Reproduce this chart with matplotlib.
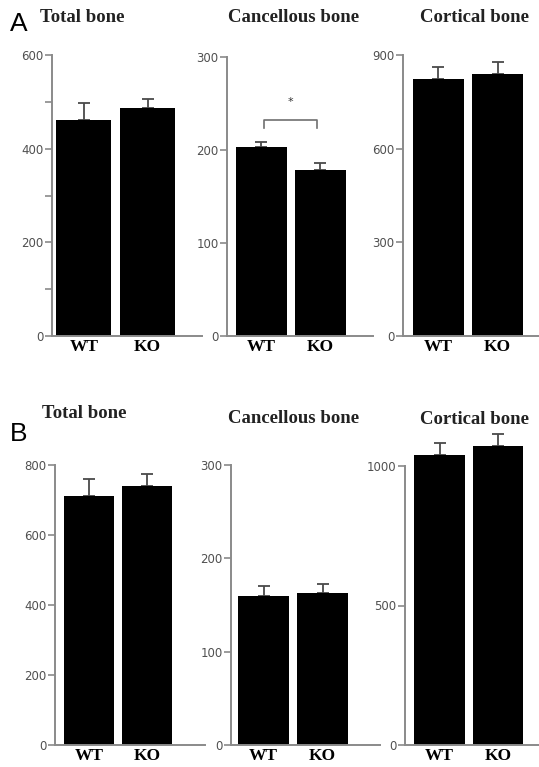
import numpy as np
import matplotlib
matplotlib.use("Agg")
import matplotlib.pyplot as plt

# ---- datos ----
groups = ["WT", "KO"]
titles = ["Total bone", "Cancellous bone", "Cortical bone"]

a_means = [[462, 487], [203, 178], [822, 839]]
a_errs = [[35, 18], [6, 8], [40, 37]]
a_ticks = [[0, 200, 400, 600], [0, 100, 200, 300], [0, 300, 600, 900]]
a_minor = [[100, 300, 500], [], []]

b_means = [[712, 740], [160, 163], [1040, 1070]]
b_errs = [[48, 34], [10, 9], [42, 45]]
b_ticks = [[0, 200, 400, 600, 800], [0, 100, 200, 300], [0, 500, 1000]]
b_minor = [[], [], []]

# significancia (panel A, cancellous)
sig_y = 232
sig_drop = 8
sig_star_y = 252

W, H = 539, 767
AXIS_GRAY = "#8a8a8a"
TEXT_GRAY = "#505050"

# pixel layout: (axis x, right end, top px, bottom px, xlim)
layout_a = [(52, 202, 55, 336, (-0.50, 1.85)),
            (227, 373, 57, 336, (-0.58, 1.89)),
            (403, 539, 55, 336, (-0.60, 1.70))]
layout_b = [(55, 205, 465, 745, (-0.59, 2.00)),
            (231, 380, 465, 745, (-0.55, 1.97)),
            (405, 539, 466, 745, (-0.59, 1.70))]
title_y_a = [17, 17, 17]
title_y_b = [414, 418, 420]


def make_axes(fig, x0, x1, top, bottom):
    return fig.add_axes([x0 / W, 1 - bottom / H, (x1 - x0) / W, (bottom - top) / H])


def draw_panel(ax, means, errs, ticks, minor, xlim):
    x = np.arange(len(groups))
    ax.bar(x, means, width=0.86, color="black", zorder=2, clip_on=False)
    ax.errorbar(x, means, yerr=[np.zeros(len(errs)), errs], fmt="none",
                ecolor="#4a4a4a", elinewidth=1.3, capsize=4, capthick=1.3,
                zorder=1, clip_on=False)
    ax.set_xlim(*xlim)
    ax.set_ylim(0, ticks[-1])
    ax.set_yticks(ticks)
    ax.set_yticks(minor, minor=True)
    ax.tick_params(axis="y", which="both", length=5, width=1.2, color=AXIS_GRAY,
                   labelsize=8.5, labelcolor=TEXT_GRAY, pad=1)
    ax.set_xticks(x)
    ax.set_xticklabels(groups, fontfamily="Liberation Serif", fontweight="bold",
                       fontsize=12.5)
    ax.tick_params(axis="x", length=0, pad=2)
    for s in ["top", "right"]:
        ax.spines[s].set_visible(False)
    for s in ["left", "bottom"]:
        ax.spines[s].set_color(AXIS_GRAY)
        ax.spines[s].set_linewidth(1.4)
    ax.set_facecolor("none")


fig = plt.figure(figsize=(W / 100, H / 100), dpi=100)

for i in range(3):
    x0, x1, top, bottom, xlim = layout_a[i]
    ax = make_axes(fig, x0, x1, top, bottom)
    draw_panel(ax, a_means[i], a_errs[i], a_ticks[i], a_minor[i], xlim)
    if i == 1:
        ax.plot([0.05, 0.05, 0.95, 0.95],
                [sig_y - sig_drop, sig_y, sig_y, sig_y - sig_drop],
                color="#707070", lw=1.2)
        ax.text(0.5, sig_star_y, "*", ha="center", va="center", fontsize=8,
                color="#333333")

for i in range(3):
    x0, x1, top, bottom, xlim = layout_b[i]
    ax = make_axes(fig, x0, x1, top, bottom)
    draw_panel(ax, b_means[i], b_errs[i], b_ticks[i], b_minor[i], xlim)

title_x = [82, 294, 475]
for i, t in enumerate(titles):
    fig.text(title_x[i] / W, 1 - title_y_a[i] / H, t, ha="center", va="center",
             fontfamily="Liberation Serif", fontweight="bold", fontsize=13.5,
             color="#222222")
    fig.text(title_x[i] / W + (2 / W if i == 0 else 0), 1 - title_y_b[i] / H, t,
             ha="center", va="center", fontfamily="Liberation Serif",
             fontweight="bold", fontsize=13.5, color="#222222")

fig.text(10 / W, 1 - 24 / H, "A", ha="left", va="center", fontsize=19,
         fontfamily="Liberation Sans")
fig.text(10 / W, 1 - 434 / H, "B", ha="left", va="center", fontsize=19,
         fontfamily="Liberation Sans")

fig.savefig("out.png", dpi=100)
